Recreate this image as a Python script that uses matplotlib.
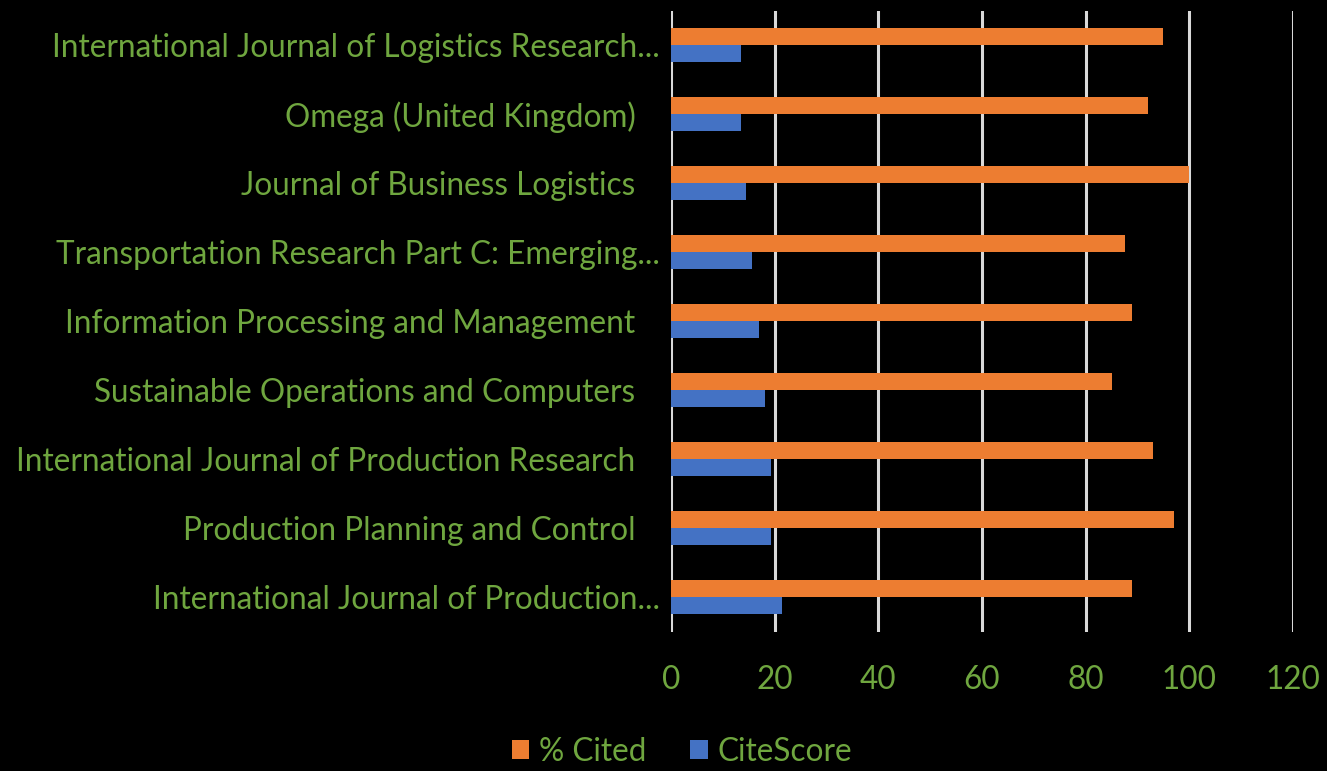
import matplotlib
matplotlib.use("Agg")
import matplotlib.pyplot as plt
import numpy as np

journals = [
    "International Journal of Logistics Research...",
    "Omega (United Kingdom)   ",
    "Journal of Business Logistics   ",
    "Transportation Research Part C: Emerging...",
    "Information Processing and Management   ",
    "Sustainable Operations and Computers   ",
    "International Journal of Production Research   ",
    "Production Planning and Control   ",
    "International Journal of Production...",
]
pct_cited = [95, 92, 100, 87.5, 89, 85, 93, 97, 89]
cite_score = [13.6, 13.6, 14.4, 15.7, 16.9, 18.1, 19.2, 19.2, 21.4]
xticks = [0, 20, 40, 60, 80, 100, 120]

plt.rcParams['font.family'] = ['Lato', 'DejaVu Sans']
green = '#6fa63f'
orange = '#ed7d31'
blue = '#4472c4'

fig = plt.figure(figsize=(13.27, 7.71), dpi=100, facecolor='black')
ax = fig.add_axes([671/1327, 139.5/771, 622/1327, 621/771], facecolor='black')

y = np.arange(len(journals))
h = 0.25
ax.barh(y - h/2, pct_cited, height=h, color=orange, label='% Cited', zorder=3)
ax.barh(y + h/2, cite_score, height=h, color=blue, label='CiteScore', zorder=3)

ax.set_ylim(len(journals) - 0.5, -0.5)
ax.set_xlim(0, 120)
ax.set_xticks(xticks)
ax.set_xticklabels([str(t) for t in xticks])
ax.set_yticks(y)
ax.set_yticklabels(journals)
ax.grid(axis='x', color='#d9d9d9', linewidth=2.2, zorder=1)
ax.grid(axis='y', visible=False)
for s in ax.spines.values():
    s.set_visible(False)
ax.tick_params(axis='both', length=0, labelcolor=green, labelsize=22.7)
ax.tick_params(axis='y', pad=8)
ax.tick_params(axis='x', pad=24)
ax.set_axisbelow(True)

leg = fig.legend(loc='center', bbox_to_anchor=(682/1327, 1 - 752/771), ncol=2,
                 frameon=False, fontsize=22.7, handlelength=0.55, handleheight=0.55,
                 handletextpad=0.3, columnspacing=1.4)
for t in leg.get_texts():
    t.set_color(green)

fig.savefig('out.png', dpi=100, facecolor='black')
